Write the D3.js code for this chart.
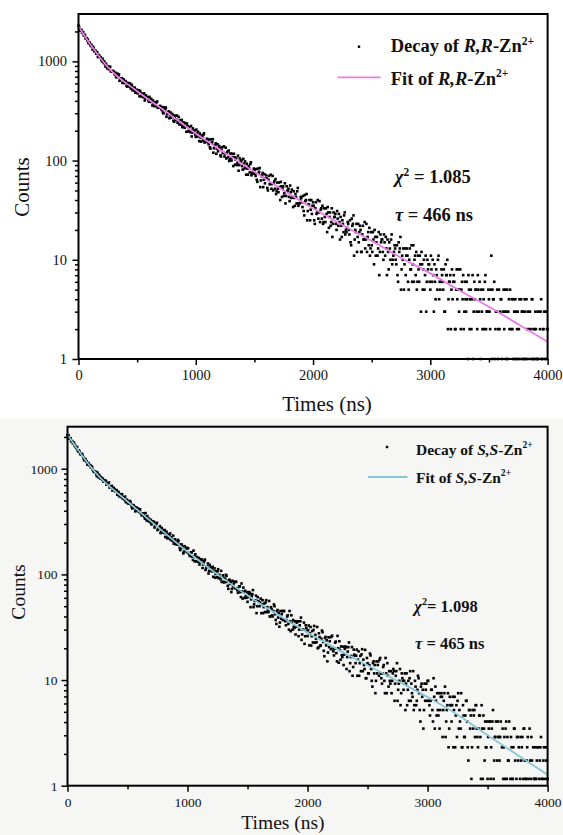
<!DOCTYPE html>
<html>
<head>
<meta charset="utf-8">
<script src="https://cdn.jsdelivr.net/npm/d3@7"></script>
<style>
  body { margin: 0; background: #fff; }
  text { font-family: "Liberation Serif", "Times New Roman", serif; fill: #111; }
</style>
</head>
<body>
<svg id="chart" width="563" height="835"></svg>
<script>
// detector channels: even ones at 0,10,...,4000 ns and odd ones at 5,15,...,3995 ns
var channelA = d3.range(0, 4001, 10);
var channelB = d3.range(5, 4000, 10);

// counts per channel, R,R-Zn2+ (upper panel)
var decayRR = [
  2292,2095,2074,1962,1970,1818,1702,1707,1660,1518,
  1477,1470,1315,1345,1282,1200,1236,1126,1116,1094,
  1000,1010,998,887,897,893,830,882,799,790,
  785,737,703,753,719,636,674,677,632,605,
  633,567,590,562,598,546,512,542,543,487,
  489,512,444,483,465,435,475,424,434,436,
  392,412,419,359,378,386,354,394,345,347,
  349,323,305,344,327,276,306,313,286,271,
  295,252,272,257,284,251,231,254,257,221,
  224,239,195,222,212,194,223,191,199,202,
  173,189,195,157,171,179,159,188,157,159,
  162,146,136,164,153,120,142,149,132,124,
  140,113,128,119,139,118,105,123,126,103,
  106,117,88,108,102,90,112,90,97,101,
  81,93,98,72,83,88,76,96,75,78,
  80,70,64,83,77,54,71,75,64,59,
  71,53,64,58,72,58,50,62,65,49,
  52,60,40,55,52,44,59,44,49,52,
  39,48,51,34,42,46,37,53,37,40,
  42,34,31,45,40,25,36,40,32,29,
  38,25,33,29,40,30,24,33,35,24,
  27,33,19,30,27,22,33,23,27,29,
  20,26,29,16,22,25,19,30,20,21,
  23,18,15,26,23,11,20,23,17,15,
  22,12,18,16,24,16,12,19,21,13,
  14,19,9,17,15,11,19,12,15,16,
  10,15,17,7,12,15,10,18,10,12,
  13,9,7,15,13,5,11,13,9,7,
  13,6,10,8,14,9,6,11,12,6,
  8,11,3,9,8,5,11,6,8,9,
  5,8,10,3,6,8,5,11,6,6,
  7,5,3,9,7,2,6,7,5,4,
  7,2,5,4,8,5,2,6,7,3,
  4,6,1,5,4,2,7,3,4,5,
  2,5,6,1,3,5,2,7,3,3,
  4,2,11,5,4,1,3,5,2,2,
  4,1,3,2,5,3,1,4,5,2,
  2,4,1,3,2,1,4,1,3,3,
  1,3,4,1,2,3,1,4,2,2,
  2,1,1,3,3,1,2,3,1,1,
  2
];
var decayRRodd = [
  2219,2041,2071,1931,1821,1853,1725,1621,1532,1550,
  1430,1413,1401,1263,1276,1200,1106,1160,1103,1037,
  1063,965,946,945,850,868,875,794,789,801,
  756,769,689,721,738,659,665,606,657,625,
  615,556,605,561,533,580,539,507,483,518,
  475,490,505,444,472,444,403,454,434,408,
  438,390,391,403,353,374,386,340,343,356,
  333,346,299,325,342,294,302,267,305,287,
  284,246,284,257,241,275,250,231,217,243,
  214,225,236,197,218,201,175,211,200,183,
  205,175,177,187,155,172,181,152,155,166,
  152,163,132,151,164,133,140,117,146,134,
  134,110,136,120,110,135,119,108,99,118,
  100,108,117,91,106,95,79,105,98,88,
  104,83,86,93,72,84,92,71,74,83,
  73,82,61,74,84,63,69,54,73,66,
  66,50,70,58,52,70,59,52,46,60,
  48,54,61,43,55,47,37,55,50,43,
  56,42,43,49,35,43,49,35,37,43,
  38,44,28,39,46,31,36,25,40,35,
  35,23,38,30,26,39,32,26,23,33,
  24,29,34,21,30,24,17,30,27,23,
  31,22,24,27,17,23,28,18,19,24,
  20,25,14,22,28,16,19,12,23,19,
  20,12,22,16,13,23,17,14,11,19,
  12,16,20,11,17,13,7,18,16,12,
  18,11,13,16,8,13,16,9,11,14,
  10,14,6,12,17,8,10,5,13,11,
  11,5,13,8,6,14,10,7,5,11,
  6,9,12,5,10,7,3,10,9,6,
  11,6,7,9,4,7,10,4,5,8,
  6,8,3,7,10,4,6,2,8,6,
  6,2,8,5,3,8,5,4,2,6,
  3,4,7,2,5,4,1,6,5,3,
  7,3,4,5,2,4,6,2,3,5,
  3,5,1,4,6,2,3,1,5,3,
  4,0,5,3,1,5,3,2,0,4,
  1,3,4,1,3,2,0,4,3,1,
  4,1,2,3,0,2,4,1,1,3,
  1,3,0,2,4,1,2,0,3,2
];

// counts per channel, S,S-Zn2+ (lower panel, normalised counts)
var decaySS = [
  2082,2063,1948,1823,1821,1764,1644,1603,1604,1460,
  1449,1368,1384,1290,1203,1227,1175,1098,1080,1080,
  1051,980,932,941,883,920,827,839,832,785,
  754,774,762,722,732,665,677,688,632,641,
  609,628,592,550,575,568,523,522,545,482,
  495,467,495,456,421,451,436,403,405,419,
  413,381,361,378,351,380,324,337,337,312,
  297,314,312,290,302,263,275,286,254,264,
  247,263,243,220,239,238,212,216,233,195,
  207,192,212,190,170,192,183,164,169,179,
  177,159,149,162,147,168,133,144,146,131,
  124,137,137,124,134,110,119,127,108,116,
  107,118,107,93,107,107,92,94,108,85,
  93,85,99,85,73,89,85,73,77,85,
  85,74,67,77,68,82,59,68,70,60,
  55,65,66,58,65,49,56,63,50,56,
  50,59,52,43,53,54,44,46,56,40,
  47,40,52,42,34,46,43,35,38,45,
  45,37,33,40,34,45,29,35,37,31,
  27,35,36,30,36,24,30,35,26,31,
  26.1,32.8,27.8,21.2,29.1,29.8,22.6,24.6,31.8,20.3,
  25.5,21.3,29.4,22.9,16.8,25.6,23.8,18.2,20.5,25.4,
  25.8,20,17.1,22.6,18,26.2,14.6,19.3,20.8,16.5,
  13.87,19.7,20.4,16.5,20.5,12.14,16.5,20.5,13.29,17.4,
  14.45,19.4,15.61,10.98,16.9,17.5,12.14,13.87,19.3,10.4,
  14.45,11.56,17.8,12.72,8.67,15.03,13.87,9.83,11.56,15.03,
  15.61,11.56,9.25,13.29,9.83,16.18,7.51,10.98,12.14,9.25,
  7.51,11.56,12.14,9.25,12.14,6.36,9.25,12.72,7.51,10.4,
  8.09,11.56,9.25,5.78,9.83,10.4,6.36,7.51,12.14,5.78,
  8.67,6.36,10.98,7.51,4.05,9.25,8.09,5.2,6.36,9.25,
  9.83,6.36,4.62,8.09,5.2,10.4,3.47,6.36,7.51,4.62,
  3.47,6.94,6.94,5.2,7.51,2.89,5.2,7.51,3.47,5.78,
  4.05,6.94,5.2,2.31,5.78,6.36,3.47,4.05,7.51,2.31,
  4.62,2.89,6.36,4.05,1.73,5.2,4.62,2.31,3.47,5.2,
  5.78,3.47,2.31,4.62,2.89,5.78,1.16,3.47,4.05,2.31,
  1.16,3.47,4.05,2.31,4.05,1.16,2.89,4.05,1.73,2.89,
  1.73,4.05,2.31,1.16,2.89,3.47,1.16,1.73,4.05,1.16,
  2.31,1.16,3.47,1.73,1.16,2.89,2.31,1.16,1.73,2.89,
  3.47,1.73,1.16,2.31,1.16,3.47,1.16,1.73,2.31,1.16,
  1.16,1.73,2.31,1.16,2.31,1.16,1.16,2.31,1.16,1.73,
  1.16
];
var decaySSodd = [
  2075,1929,1945,1829,1737,1755,1649,1560,1485,1491,
  1390,1370,1354,1239,1243,1176,1095,1133,1083,1025,
  1039,957,937,931,850,871,875,806,799,806,
  768,774,706,728,739,672,673,622,660,632,
  619,568,604,566,540,574,538,509,486,510,
  470,477,485,435,453,428,395,430,413,390,
  412,371,370,377,336,350,356,319,319,328,
  308,317,278,296,308,270,274,246,275,260,
  255,226,254,233,219,244,224,208,196,215,
  193,199,207,177,192,178,158,185,175,162,
  177,154,155,162,137,149,155,133,134,143,
  131,139,115,130,138,115,119,102,123,115,
  112,95,114,101,94,112,99,90,85,98,
  84,91,97,78,88,81,68,87,82,74,
  85,71,71,77,61,69,75,60,62,68,
  61,68,49,62,71,52,57,43,61,55,
  54,43,57,49,44,57,49,44,40,49,
  41,45,50,37,45,39,32,45,42,37,
  45,36,37,41,30,36,41,30,32,36,
  32,36,26,33,39,27,30,22,33,29,
  29.7,21.3,31.8,26,22.7,32.5,26.8,22.8,20,27.7,
  21,24.6,28.4,18.9,25,21.3,15.03,25.4,23.3,19.6,
  26.3,18.7,19.8,23.1,15.03,20,23.3,15.61,17.2,20.7,
  17.4,20.8,12.72,18.6,22.7,14.45,16.9,10.98,19.4,17,
  17,10.98,18.7,14.45,12.14,19.6,15.61,12.72,10.4,16.18,
  11.56,13.87,17.1,9.83,14.45,11.56,7.51,15.03,13.87,10.98,
  16.18,10.4,11.56,13.87,7.51,11.56,14.45,8.67,9.83,12.14,
  9.83,12.72,6.36,10.98,14.45,8.09,9.83,5.78,11.56,9.83,
  9.83,5.2,11.56,8.09,6.36,12.14,9.25,6.94,5.2,9.83,
  5.78,8.09,10.4,5.2,8.67,6.94,3.47,9.25,8.09,6.36,
  9.83,5.78,6.36,8.09,4.05,6.94,8.67,4.62,5.2,7.51,
  5.2,7.51,2.89,6.36,8.67,4.05,5.78,2.31,6.94,5.78,
  5.78,2.31,6.94,4.62,2.89,7.51,5.2,3.47,2.31,5.78,
  2.89,4.62,6.36,2.31,5.2,3.47,1.16,5.2,4.62,2.89,
  5.78,2.89,3.47,4.62,1.16,3.47,4.62,1.73,2.31,4.05,
  2.89,4.05,1.16,3.47,5.2,1.73,2.89,0,4.05,2.89,
  2.89,0,3.47,2.31,1.16,4.05,2.89,1.73,0,2.89,
  1.16,2.31,3.47,0,2.89,1.73,0,2.89,2.31,1.16,
  3.47,1.16,1.73,2.89,0,1.73,2.89,0,1.16,2.31,
  1.16,2.31,0,1.73,2.89,0,1.73,0,2.31,1.73
];

// fitted curves, read at these times
var fitTimes = [0, 100, 200, 250, 500, 750, 1000, 1250, 1500, 1750, 2000, 2250, 2500, 2750, 3000, 3250, 3500, 3750, 4000];
var fitRR = [2250, 1489, 1032, 875, 500, 309, 187, 119, 77, 50, 33, 22.4, 15.5, 10.5, 7.3, 4.9, 3.36, 2.24, 1.49];
var fitSS = [2100, 1440, 1018, 875, 490, 282, 164, 100, 63, 41.7, 28.2, 19.5, 13.8, 9.8, 6.9, 4.7, 3.0, 1.95, 1.27];

var xTicks = [0, 1000, 2000, 3000, 4000];
var xMinorTicks = [500, 1500, 2500, 3500];
var yTicks = [1, 10, 100, 1000];
var yMinorTicks = [2,3,4,5,6,7,8,9,20,30,40,50,60,70,80,90,200,300,400,500,600,700,800,900,2000];

var svg = d3.select("#chart");

// lower panel has a faint grey paper tone
svg.append("rect")
    .attr("x", 0).attr("y", 418)
    .attr("width", 563).attr("height", 417)
    .attr("fill", "#f6f6f4");

function rich(parent, x, y, size, parts) {
    var t = parent.append("text")
        .attr("x", x).attr("y", y)
        .attr("font-size", size)
        .attr("font-weight", "bold");
    var cur = 0;
    parts.forEach(function (pt) {
        var s = t.append("tspan").text(pt.t);
        var target = pt.sup ? -0.42 * size : 0;
        if (target !== cur) s.attr("dy", target - cur);
        cur = target;
        if (pt.i) s.attr("font-style", "italic");
        if (pt.sup) s.attr("font-size", size * 0.62);
    });
    return t;
}

function drawPanel(p) {
    var x = d3.scaleLinear().domain([0, 4000]).range([p.left, p.right]);
    var y = d3.scaleLog().domain([1, p.yMax]).range([p.bottom, p.top]);
    var g = svg.append("g");

    var pts = p.counts.map(function (c, i) { return [channelA[i], c]; })
        .concat(p.countsOdd.map(function (c, i) { return [channelB[i], c]; }))
        .filter(function (d) { return d[1] >= 1; });

    g.selectAll("rect.pt")
        .data(pts)
        .enter().append("rect")
        .attr("class", "pt")
        .attr("x", function (d) { return x(d[0]) - 1.3; })
        .attr("y", function (d) { return y(d[1]) - 1.3; })
        .attr("width", 2.6)
        .attr("height", 2.6)
        .attr("fill", "#000");

    var line = d3.line()
        .x(function (d) { return x(d[0]); })
        .y(function (d) { return y(d[1]); })
        .curve(d3.curveMonotoneX);

    g.append("path")
        .datum(fitTimes.map(function (t, i) { return [t, p.fit[i]]; }))
        .attr("d", line)
        .attr("fill", "none")
        .attr("stroke", p.color)
        .attr("stroke-width", 1.8);

    // axes
    var xa = g.append("g").attr("transform", "translate(0," + p.bottom + ")")
        .call(d3.axisBottom(x).tickValues(xTicks).tickSize(6).tickSizeOuter(0).tickPadding(p.xPad).tickFormat(d3.format("d")));
    var xm = g.append("g").attr("transform", "translate(0," + p.bottom + ")")
        .call(d3.axisBottom(x).tickValues(xMinorTicks).tickSize(3.5).tickSizeOuter(0).tickFormat(""));
    var ya = g.append("g").attr("transform", "translate(" + p.left + ",0)")
        .call(d3.axisLeft(y).tickValues(yTicks).tickSize(6).tickSizeOuter(0).tickPadding(p.yPad).tickFormat(d3.format("d")));
    var ym = g.append("g").attr("transform", "translate(" + p.left + ",0)")
        .call(d3.axisLeft(y).tickValues(yMinorTicks.filter(function (v) { return v <= p.yMax; })).tickSize(3.5).tickSizeOuter(0).tickFormat(""));

    [xa, xm, ya, ym].forEach(function (a) {
        a.select(".domain").remove();
        a.selectAll("line").attr("stroke", "#000").attr("stroke-width", 1.5);
        a.selectAll("text")
            .attr("font-family", "Liberation Serif, Times New Roman, serif")
            .attr("font-size", p.tickFont)
            .attr("fill", "#111");
    });

    g.append("rect")
        .attr("x", p.left).attr("y", p.top)
        .attr("width", p.right - p.left).attr("height", p.bottom - p.top)
        .attr("fill", "none").attr("stroke", "#000").attr("stroke-width", 2);

    g.append("text")
        .attr("x", p.xTitle[0]).attr("y", p.xTitle[1])
        .attr("text-anchor", "middle")
        .attr("font-size", p.titleFont)
        .text("Times (ns)");

    g.append("text")
        .attr("transform", "translate(" + p.yTitle[0] + "," + p.yTitle[1] + ") rotate(-90)")
        .attr("text-anchor", "middle")
        .attr("font-size", p.titleFont)
        .text("Counts");

    // legend
    g.append("rect")
        .attr("x", p.legDot[0] - 1.2).attr("y", p.legDot[1] - 1.2)
        .attr("width", 2.4).attr("height", 2.4).attr("fill", "#000");
    rich(g, p.legText[0], p.legText[1], p.legFont,
        [{ t: "Decay of " }, { t: p.name, i: true }, { t: "-Zn" }, { t: "2+", sup: true }]);
    g.append("line")
        .attr("x1", p.legLine[0]).attr("x2", p.legLine[1])
        .attr("y1", p.legLine[2]).attr("y2", p.legLine[2])
        .attr("stroke", p.color).attr("stroke-width", 1.8);
    rich(g, p.legText[0], p.legText2, p.legFont,
        [{ t: "Fit of " }, { t: p.name, i: true }, { t: "-Zn" }, { t: "2+", sup: true }]);

    // fit results
    rich(g, p.chi[0], p.chi[1], p.noteFont,
        [{ t: "\u03C7", i: true }, { t: "2", sup: true }, { t: p.chiText }]);
    rich(g, p.tau[0], p.tau[1], p.noteFont,
        [{ t: "\u03C4", i: true }, { t: p.tauText }]);
}

drawPanel({
    left: 78.5, right: 547.6, top: 14, bottom: 359, yMax: 3000,
    counts: decayRR, countsOdd: decayRRodd, fit: fitRR, color: "#e87ce8", name: "R,R",
    tickFont: 14.5, xPad: 5, yPad: 5.5, titleFont: 21,
    xTitle: [327, 411], yTitle: [29, 187],
    legDot: [359, 46.7], legText: [390.7, 52.3], legText2: 85, legFont: 18.5,
    legLine: [337.5, 380.6, 77.3],
    noteFont: 18.5, chi: [395, 183.3], tau: [395, 220.7],
    chiText: " = 1.085", tauText: " = 466 ns"
});

drawPanel({
    left: 67.5, right: 547.6, top: 426.7, bottom: 785.7, yMax: 2500,
    counts: decaySS, countsOdd: decaySSodd, fit: fitSS, color: "#86c5da", name: "S,S",
    tickFont: 13.5, xPad: 6, yPad: 4, titleFont: 19.5,
    xTitle: [283, 829], yTitle: [25, 592],
    legDot: [387, 447], legText: [416, 455], legText2: 483, legFont: 15.5,
    legLine: [368, 407.5, 477],
    noteFont: 16.5, chi: [414.3, 611.7], tau: [415, 649],
    chiText: "= 1.098", tauText: " = 465 ns"
});
</script>
</body>
</html>
